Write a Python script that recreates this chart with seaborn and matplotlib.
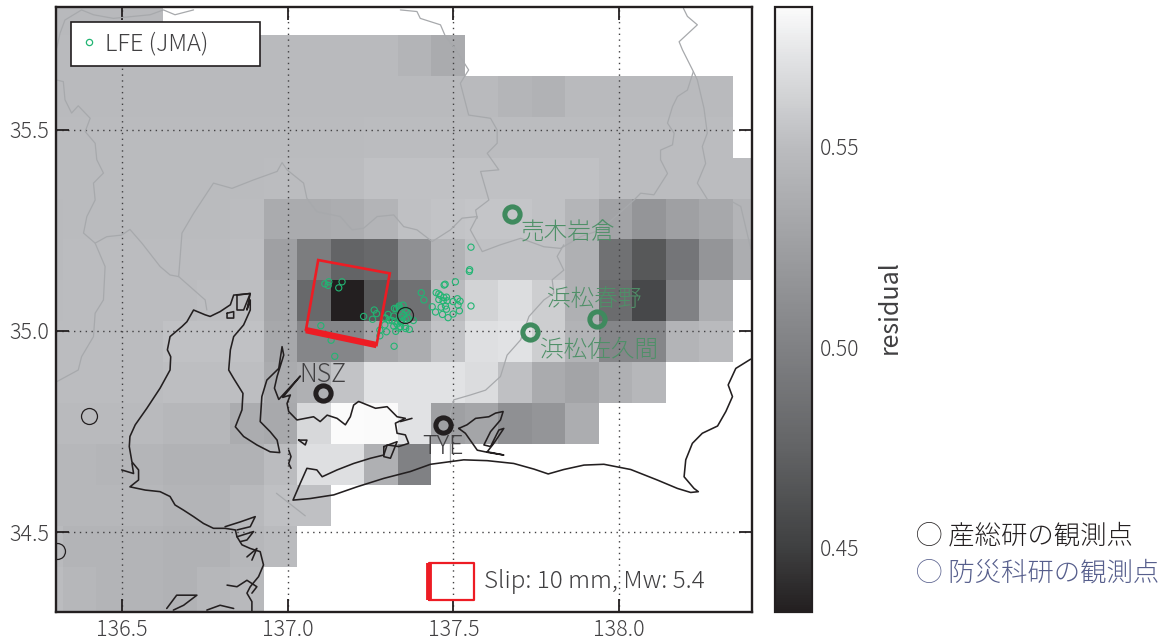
import numpy as np
import pandas as pd
import seaborn as sns
from matplotlib import pyplot as plt
from matplotlib.colors import LinearSegmentedColormap
from matplotlib.lines import Line2D

n = np.nan

# residual on the 0.1 degree grid, north row first (cells are clipped by the frame)
row00 = [.547, .547, .547, .547, n, n, n, n, n, n, n, n, n, n, n, n, n, n, n, n, n, n]
row01 = [.548, .548, .548, .548, .548, .548, .548, .548, .548, .548, .548, .543, .535, n, n, n, n, n, n, n, n, n]
row02 = [.548, .548, .548, .548, .548, .548, .548, .548, .548, .548, .548, .548, .548, .548, .544, .541, .548, .548, .548, .548, .548, n]
row03 = [.549, .549, .549, .549, .549, .549, .549, .549, .549, .549, .550, .550, .550, .550, .550, .550, .550, .550, .550, .550, .550, n]
row04 = [.549, .549, .549, .549, .549, .549, .549, .550, .550, .550, .553, .553, .553, .553, .553, .553, .553, .550, .550, .550, .550, .550]
row05 = [.548, .549, .549, .549, .549, .549, .550, .535, .535, .537, .543, .552, .554, .555, .555, .553, .544, .528, .517, .526, .533, .543]
row06 = [.548, .550, .550, .550, .550, .550, .551, .526, .496, .475, .479, .513, .542, .553, .553, .553, .540, .486, .467, .490, .517, .537]
row07 = [.549, .550, .550, .550, .550, .551, .551, .530, .479, .434, .467, .486, .548, .563, .569, .560, .540, .482, .456, .500, .537, n]
row08 = [.550, .550, .550, .550, .553, .553, .553, .533, .504, .504, .530, .537, .554, .570, .572, .560, .542, .504, .504, .543, .548, n]
row09 = [.550, .550, .550, .550, .551, .551, .551, .535, .540, .554, .572, .572, .572, .568, .552, .535, .529, .540, .546, n, n, n]
row10 = [.548, .548, .548, .548, .546, .546, .536, .534, .566, .585, .584, .572, .526, .530, .513, .517, .537, n, n, n, n, n]
row11 = [.546, .546, .544, .544, .541, .541, .541, .550, .570, .570, .540, .500, n, n, n, n, n, n, n, n, n, n]
row12 = [.546, .546, .546, .546, .543, .543, .547, .552, .552, n, n, n, n, n, n, n, n, n, n, n, n, n]
row13 = [.548, .543, .543, .543, .541, .541, .546, .549, n, n, n, n, n, n, n, n, n, n, n, n, n, n]
row14 = [.550, .545, .543, .543, .541, .545, .547, n, n, n, n, n, n, n, n, n, n, n, n, n, n, n]
row15 = [.550, .545, .543, .543, .541, .545, .547, n, n, n, n, n, n, n, n, n, n, n, n, n, n, n]
residual_rows = [row00, row01, row02, row03, row04, row05, row06, row07,
                 row08, row09, row10, row11, row12, row13, row14, row15]

# low frequency earthquakes
lfe_lon = [137.112, 137.124, 137.122, 137.164, 137.154, 137.229, 137.261, 137.268, 137.256, 137.100, 137.131, 137.142, 137.321,
           137.293, 137.303, 137.306, 137.320, 137.322, 137.328, 137.336, 137.348, 137.336, 137.355, 137.360, 137.350, 137.343,
           137.355, 137.343, 137.363, 137.379, 137.293, 137.295, 137.315, 137.324, 137.330, 137.340, 137.355, 137.367, 137.356,
           137.335, 137.326, 137.298, 137.278, 137.278, 137.320, 137.340,
           137.403, 137.411, 137.436, 137.446, 137.448, 137.456, 137.461, 137.456, 137.471, 137.479, 137.469, 137.481, 137.463,
           137.476, 137.479, 137.467, 137.484, 137.499, 137.518, 137.514, 137.499, 137.512, 137.520, 137.553, 137.506, 137.472,
           137.475, 137.549, 137.548, 137.553]
lfe_lat = [35.117, 35.122, 35.113, 35.122, 35.107, 35.036, 35.052, 35.043, 35.029, 35.013, 34.977, 34.937, 34.962,
           35.032, 35.041, 35.027, 35.037, 35.056, 35.055, 35.062, 35.064, 35.058, 35.052, 35.048, 35.040, 35.034,
           35.029, 35.023, 35.032, 35.026, 35.015, 35.032, 35.026, 35.023, 35.017, 35.011, 35.011, 35.004, 35.006,
           35.007, 34.999, 34.998, 35.002, 34.988, 35.012, 35.023,
           35.095, 35.077, 35.060, 35.047, 35.095, 35.092, 35.088, 35.078, 35.083, 35.084, 35.075, 35.075, 35.059,
           35.062, 35.054, 35.041, 35.033, 35.042, 35.050, 35.064, 35.073, 35.080, 35.074, 35.062, 35.122, 35.114,
           35.116, 35.152, 35.148, 35.208]

# estimated fault
fault_lon = [137.055, 137.092, 137.308, 137.268]
fault_lat = [35.002, 35.176, 35.143, 34.965]
key_lon = [137.425, 137.561]
key_lat = [34.332, 34.424]

# stations
aist_names = ["NSZ", "TYE"]
aist_lon = [137.105, 137.468]
aist_lat = [34.846, 34.767]
aist_label_lat = [34.891, 34.712]
other_lon = [137.355, 136.400, 136.304]
other_lat = [35.040, 34.789, 34.454]
hinet_names = ["売木岩倉", "浜松春野", "浜松佐久間"]
hinet_lon = [137.678, 137.932, 137.732]
hinet_lat = [35.291, 35.030, 34.998]
hinet_label_lon = [137.845, 137.925, 137.938]
hinet_label_lat = [35.243, 35.079, 34.950]

# coastline
coast_west = [(136.892, 34.303), (136.892, 34.328), (136.877, 34.349), (136.887, 34.365), (136.912, 34.390), (136.927, 34.419),
              (136.917, 34.452), (136.887, 34.460), (136.862, 34.469), (136.847, 34.489), (136.842, 34.506), (136.811, 34.510),
              (136.776, 34.510), (136.746, 34.522), (136.716, 34.539), (136.686, 34.555), (136.660, 34.568), (136.645, 34.589),
              (136.615, 34.601), (136.570, 34.605), (136.524, 34.613), (136.550, 34.630), (136.550, 34.655), (136.530, 34.675),
              (136.522, 34.713), (136.524, 34.738), (136.540, 34.767), (136.575, 34.808), (136.615, 34.858), (136.645, 34.903),
              (136.647, 34.936), (136.637, 34.953), (136.645, 34.986), (136.681, 35.011), (136.696, 35.023), (136.716, 35.052),
              (136.751, 35.040), (136.766, 35.036), (136.796, 35.048), (136.827, 35.065), (136.837, 35.089), (136.887, 35.093),
              (136.877, 35.052), (136.887, 35.077), (136.887, 35.052), (136.867, 35.015), (136.837, 34.986), (136.827, 34.953),
              (136.822, 34.903), (136.837, 34.882), (136.865, 34.845), (136.862, 34.804), (136.842, 34.762), (136.867, 34.738),
              (136.907, 34.717), (136.947, 34.700), (136.976, 34.698), (136.968, 34.729), (136.947, 34.750), (136.917, 34.775),
              (136.922, 34.837), (136.937, 34.878), (136.973, 34.907), (136.983, 34.961), (136.988, 34.940), (136.968, 34.887),
              (136.960, 34.858), (136.973, 34.830), (137.038, 34.888), (136.985, 34.835), (137.008, 34.841), (136.998, 34.820),
              (137.003, 34.800), (137.028, 34.779), (137.078, 34.787), (137.098, 34.775), (137.119, 34.791), (137.149, 34.783),
              (137.174, 34.767), (137.189, 34.787), (137.199, 34.816), (137.214, 34.825), (137.265, 34.808), (137.300, 34.812),
              (137.330, 34.787), (137.355, 34.783), (137.325, 34.771), (137.330, 34.746), (137.355, 34.742), (137.365, 34.721),
              (137.335, 34.713), (137.300, 34.717), (137.290, 34.692), (137.250, 34.684), (137.199, 34.671), (137.149, 34.655),
              (137.104, 34.638), (137.088, 34.655), (137.058, 34.659), (137.038, 34.622), (137.016, 34.580), (137.068, 34.584),
              (137.139, 34.593), (137.209, 34.613), (137.290, 34.634), (137.370, 34.651), (137.431, 34.669), (137.531, 34.680),
              (137.602, 34.678), (137.682, 34.671), (137.743, 34.657), (137.786, 34.645), (137.833, 34.656), (137.894, 34.667),
              (137.954, 34.669), (138.035, 34.656), (138.115, 34.630), (138.176, 34.609), (138.216, 34.599), (138.239, 34.601),
              (138.226, 34.609), (138.196, 34.638), (138.201, 34.680), (138.221, 34.721), (138.251, 34.746), (138.297, 34.764),
              (138.322, 34.800), (138.342, 34.837), (138.329, 34.866), (138.352, 34.907), (138.397, 34.930)]
hamana = [(137.516, 34.758), (137.541, 34.767), (137.567, 34.783), (137.607, 34.787), (137.627, 34.796), (137.650, 34.800),
          (137.642, 34.779), (137.612, 34.750), (137.592, 34.717), (137.612, 34.713), (137.637, 34.754), (137.652, 34.758),
          (137.622, 34.721), (137.602, 34.700), (137.652, 34.692), (137.607, 34.698), (137.572, 34.704), (137.536, 34.746),
          (137.516, 34.758)]
coast_bits = [[(136.817, 34.369), (136.847, 34.365), (136.877, 34.381), (136.907, 34.365), (136.892, 34.349)],
              [(136.635, 34.311), (136.665, 34.344), (136.726, 34.344), (136.686, 34.319), (136.655, 34.307)],
              [(136.756, 34.307), (136.796, 34.319), (136.837, 34.311)],
              [(136.811, 34.514), (136.857, 34.526), (136.902, 34.539), (136.887, 34.514), (136.847, 34.506)],
              [(136.847, 34.489), (136.897, 34.502), (136.877, 34.481), (136.857, 34.477)],
              [(136.877, 34.439), (136.907, 34.460), (136.892, 34.431)],
              [(137.033, 34.729), (137.058, 34.729), (137.053, 34.717), (137.033, 34.729)],
              [(137.003, 34.704), (137.010, 34.688), (137.003, 34.671), (137.010, 34.659)],
              [(137.290, 34.713), (137.330, 34.725), (137.310, 34.684), (137.290, 34.688), (137.290, 34.713)],
              [(136.499, 34.655), (136.535, 34.646), (136.530, 34.672)],
              [(136.817, 35.044), (136.837, 35.048), (136.837, 35.032), (136.817, 35.032), (136.817, 35.044)],
              [(136.847, 35.089), (136.887, 35.093), (136.867, 35.052), (136.847, 35.052), (136.847, 35.089)],
              [(137.340, 34.775), (137.375, 34.783)]]

# prefecture borders
border_a = [(136.303, 35.623), (136.323, 35.619), (136.328, 35.574), (136.348, 35.541), (136.368, 35.559), (136.404, 35.528),
            (136.389, 35.495), (136.419, 35.466), (136.424, 35.425), (136.444, 35.392), (136.414, 35.367), (136.419, 35.325),
            (136.394, 35.284), (136.384, 35.243), (136.419, 35.218), (136.454, 35.234), (136.499, 35.238), (136.524, 35.252),
            (136.560, 35.218), (136.615, 35.160), (136.645, 35.139), (136.671, 35.135), (136.751, 35.077), (136.756, 35.052)]
border_b = [(136.419, 35.218), (136.449, 35.160), (136.444, 35.077), (136.419, 35.044), (136.414, 34.986), (136.378, 34.936),
            (136.368, 34.903), (136.303, 34.874)]
border_c = [(136.671, 35.135), (136.681, 35.243), (136.716, 35.292), (136.776, 35.367), (136.832, 35.354), (136.897, 35.375),
            (136.968, 35.396), (136.983, 35.418), (136.998, 35.400), (137.048, 35.367), (137.058, 35.329), (137.088, 35.296),
            (137.159, 35.284), (137.194, 35.251), (137.229, 35.255), (137.270, 35.284), (137.320, 35.288), (137.350, 35.259),
            (137.390, 35.251), (137.436, 35.222), (137.491, 35.251), (137.526, 35.280), (137.572, 35.284), (137.551, 35.251),
            (137.587, 35.197), (137.642, 35.214), (137.703, 35.230), (137.773, 35.209), (137.823, 35.205), (137.884, 35.234),
            (137.944, 35.251), (138.000, 35.292), (138.045, 35.325), (138.065, 35.342), (138.105, 35.338), (138.146, 35.391),
            (138.125, 35.425), (138.125, 35.449), (138.161, 35.462), (138.166, 35.491), (138.146, 35.516), (138.161, 35.557),
            (138.176, 35.582), (138.206, 35.598), (138.224, 35.644), (138.191, 35.698), (138.181, 35.718), (138.236, 35.760),
            (138.206, 35.781), (138.194, 35.801)]
border_d = [(138.224, 35.644), (138.236, 35.623), (138.256, 35.553), (138.266, 35.491), (138.251, 35.458), (138.261, 35.416),
            (138.236, 35.367), (138.261, 35.334), (138.282, 35.305), (138.332, 35.325), (138.367, 35.309), (138.397, 35.205)]
border_e = [(136.303, 35.702), (136.313, 35.739), (136.328, 35.772), (136.378, 35.797), (136.414, 35.785), (136.474, 35.776),
            (136.535, 35.781), (136.585, 35.785), (136.625, 35.797), (136.660, 35.785), (136.716, 35.797)]
border_f = [(137.340, 35.797), (137.390, 35.793), (137.400, 35.776), (137.461, 35.760), (137.476, 35.731), (137.501, 35.706),
            (137.546, 35.648), (137.521, 35.615), (137.546, 35.536), (137.612, 35.528), (137.632, 35.499), (137.632, 35.466),
            (137.602, 35.441), (137.637, 35.400), (137.582, 35.396), (137.607, 35.325), (137.567, 35.300), (137.572, 35.280)]
border_g = [(137.833, 35.214), (137.813, 35.185), (137.833, 35.151), (137.798, 35.127), (137.803, 35.094), (137.773, 35.077),
            (137.728, 35.036), (137.703, 34.978), (137.662, 34.940), (137.642, 34.887), (137.597, 34.853), (137.551, 34.841),
            (137.501, 34.829), (137.491, 34.795), (137.491, 34.671)]
border_h = [(136.966, 34.597), (137.053, 34.541)]

x_ticks = [136.5, 137.0, 137.5, 138.0]
y_ticks = [34.5, 35.0, 35.5]
cbar_ticks = [0.45, 0.50, 0.55]
legend_lines = ["◯ 産総研の観測点", "◯ 防災科研の観測点"]

DARK = "#231f20"
TEXT = "#414042"
GREEN = "#3f8a5e"
LFE_GREEN = "#22b573"
RED = "#ed1c24"

sns.set_style("white")
plt.rcParams["font.family"] = ["Noto Sans CJK JP", "DejaVu Sans"]
plt.rcParams["font.weight"] = "light"
plt.rcParams["text.color"] = TEXT

cmap = LinearSegmentedColormap.from_list("residual", [
    (0.0, "#231f20"), (0.106, "#3f4041"), (0.272, "#636466"), (0.437, "#808184"),
    (0.609, "#9fa0a3"), (0.768, "#bbbcbf"), (0.914, "#e1e2e4"), (1.0, "#fbfbfb")])

fig = plt.figure(figsize=(11.65, 6.43), dpi=100)
box = [55.7 / 1165, 1 - 611.7 / 643, 696 / 1165, 605 / 643]
ax_grid = fig.add_axes(box)
cax = fig.add_axes([774.5 / 1165, 1 - 611.7 / 643, 37.5 / 1165, 605 / 643])

sns.heatmap(pd.DataFrame(residual_rows), ax=ax_grid, cbar_ax=cax, cmap=cmap, vmin=0.434, vmax=0.585,
            xticklabels=False, yticklabels=False)
ax_grid.set_xlim(0.797, 21.57)
ax_grid.set_ylim(15.1, 0.31)
ax_grid.set_axis_off()

# colorbar
cbar = ax_grid.collections[0].colorbar
cbar.set_ticks(cbar_ticks, labels=["0.45", "0.50", "0.55"])
cax.tick_params(axis="y", direction="in", length=10, width=1.2, color=DARK, labelsize=15.3, labelcolor=TEXT, pad=6, right=True, left=False)
cbar.outline.set_visible(True)
cbar.outline.set_edgecolor(DARK)
cbar.outline.set_linewidth(1.6)
cbar.set_label("residual", fontsize=18, color=TEXT)
cax.yaxis.set_label_coords(2.72, 0.503)

# map overlay in lon/lat
ax = fig.add_axes(box, facecolor="none")
ax.set_xlim(136.30, 138.40)
ax.set_ylim(34.303, 35.805)
ax.set_xticks(x_ticks, labels=["%.1f" % t for t in x_ticks])
ax.set_yticks(y_ticks, labels=["%.1f" % t for t in y_ticks])
ax.tick_params(direction="in", length=9.5, width=1.3, color=DARK, labelsize=15.5, labelcolor=TEXT, top=True, right=True, bottom=True, left=True, pad=5)
ax.grid(True, linestyle=(0, (1, 3.2)), linewidth=1.0, color="#414042")
ax.set_axisbelow(True)
for s in ax.spines.values():
    s.set_visible(True)
    s.set_color(DARK)
    s.set_linewidth(1.7)

for line in [border_a, border_b, border_c, border_d, border_e, border_f, border_g, border_h]:
    xs, ys = zip(*line)
    ax.plot(xs, ys, color="#a7a9ac", lw=0.9, zorder=2)
for line in [coast_west, hamana] + coast_bits:
    xs, ys = zip(*line)
    ax.plot(xs, ys, color=DARK, lw=1.15, zorder=3)

sns.scatterplot(x=lfe_lon, y=lfe_lat, ax=ax, s=20, facecolor="none", edgecolor=LFE_GREEN, linewidth=0.8, zorder=5)

# fault rectangle, lower edge drawn heavier
ax.plot(fault_lon + fault_lon[:1], fault_lat + fault_lat[:1], color=RED, lw=1.9, zorder=6, solid_joinstyle="miter")
ax.plot([fault_lon[3], fault_lon[0]], [fault_lat[3], fault_lat[0]], color=RED, lw=4.6, zorder=6, solid_capstyle="butt")
ax.plot([key_lon[0], key_lon[1], key_lon[1], key_lon[0], key_lon[0]],
        [key_lat[0], key_lat[0], key_lat[1], key_lat[1], key_lat[0]], color=RED, lw=1.6, zorder=6)
ax.plot([key_lon[0], key_lon[0]], key_lat, color=RED, lw=4.2, zorder=6, solid_capstyle="butt")
ax.text(137.593, 34.378, "Slip: 10 mm, Mw: 5.4", fontsize=17.5, va="center", ha="left", color=TEXT, zorder=7)

# stations
ax.plot(other_lon, other_lat, "o", ms=11.5, mfc="none", mec=DARK, mew=0.9, zorder=6, clip_on=True)
ax.plot(aist_lon, aist_lat, "o", ms=11, mfc="none", mec=DARK, mew=3.6, zorder=6)
ax.plot(hinet_lon, hinet_lat, "o", ms=11, mfc="none", mec=GREEN, mew=3.6, zorder=6)
for name, lon, lat in zip(aist_names, aist_lon, aist_label_lat):
    ax.text(lon, lat, name, fontsize=18, ha="center", va="center", color=TEXT, zorder=7)
for name, lon, lat in zip(hinet_names, hinet_label_lon, hinet_label_lat):
    ax.text(lon, lat, name, fontsize=17, ha="center", va="center", color="#4f9068", zorder=7)

handle = Line2D([], [], marker="o", ls="none", ms=4.5, mfc="none", mec=LFE_GREEN, mew=0.9)
leg = ax.legend([handle], ["LFE (JMA)"], loc="upper left", bbox_to_anchor=(0.0213, 0.9003, 0.2722, 0.0744), mode="expand",
                borderaxespad=0, fontsize=17, frameon=True, fancybox=False, framealpha=1, edgecolor=DARK,
                handlelength=0.76, handletextpad=0.3, borderpad=0.4)
leg.get_frame().set_linewidth(1.2)
leg.set_zorder(10)

fig.text(916 / 1165, 1 - 535 / 643, legend_lines[0], fontsize=19, color="#231f20", va="center", ha="left")
fig.text(916 / 1165, 1 - 573 / 643, legend_lines[1], fontsize=19, color="#565e8c", va="center", ha="left")

fig.savefig("out.png", dpi=100)
